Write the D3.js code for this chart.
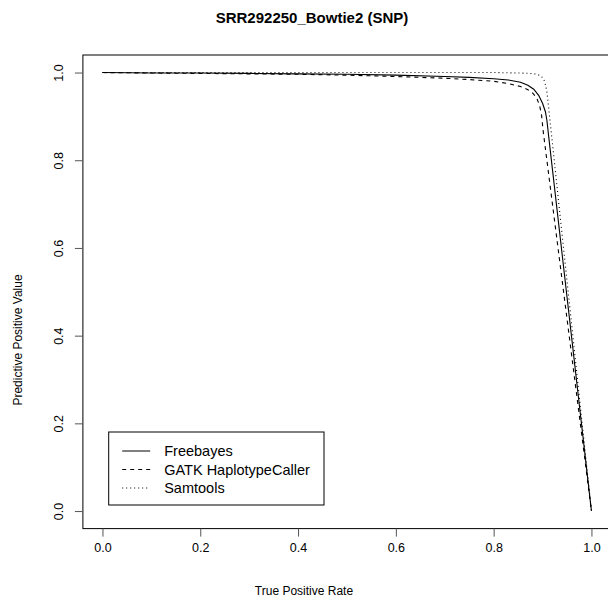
<!DOCTYPE html>
<html>
<head>
<meta charset="utf-8">
<script src="https://cdn.jsdelivr.net/npm/d3@7"></script>
<style>
  body { margin: 0; background: #fff; }
  text { font-family: "Liberation Sans", Arial, sans-serif; fill: #000; }
</style>
</head>
<body>
<div id="chart"></div>
<script>
var W = 608, H = 607;

// data (TPR on x, PPV on y)
var freebayesTPR = [0, 0.1, 0.2, 0.3, 0.4, 0.5, 0.6, 0.7, 0.75, 0.8, 0.83, 0.855, 0.87, 0.882, 0.892, 0.9, 0.906, 0.909, 0.913, 1.0];
var freebayesPPV = [1.0, 0.999, 0.999, 0.998, 0.997, 0.996, 0.994, 0.991, 0.989, 0.986, 0.983, 0.978, 0.971, 0.962, 0.948, 0.93, 0.91, 0.89, 0.85, 0];

var gatkTPR = [0, 0.1, 0.2, 0.3, 0.4, 0.5, 0.6, 0.7, 0.75, 0.8, 0.83, 0.855, 0.87, 0.88, 0.888, 0.894, 0.898, 0.901, 1.0];
var gatkPPV = [1.0, 0.999, 0.998, 0.997, 0.996, 0.994, 0.991, 0.987, 0.984, 0.980, 0.975, 0.968, 0.961, 0.953, 0.942, 0.925, 0.903, 0.869, 0];

var samtoolsTPR = [0, 0.2, 0.4, 0.6, 0.7, 0.8, 0.85, 0.875, 0.89, 0.898, 0.903, 0.906, 0.909, 0.912, 1.0];
var samtoolsPPV = [1.0, 1.0, 1.0, 1.0, 1.0, 1.0, 0.999, 0.998, 0.996, 0.991, 0.983, 0.972, 0.955, 0.925, 0];

var seriesNames = ["Freebayes", "GATK HaplotypeCaller", "Samtools"];
var seriesDash = [null, "4,4", "1,3"];
var ticks = [0, 0.2, 0.4, 0.6, 0.8, 1.0];

var series = [
  d3.zip(freebayesTPR, freebayesPPV),
  d3.zip(gatkTPR, gatkPPV),
  d3.zip(samtoolsTPR, samtoolsPPV)
];

var box = { left: 82.9, right: 611, top: 55, bottom: 528.6 };
var pad = 0.04 * (box.right - box.left) / 1.08;
var padY = 0.04 * (box.bottom - box.top) / 1.08;

var x = d3.scaleLinear().domain([0, 1]).range([box.left + pad, box.right - pad]);
var y = d3.scaleLinear().domain([0, 1]).range([box.bottom - padY, box.top + padY]);

var svg = d3.select("#chart").append("svg")
    .attr("width", W)
    .attr("height", H);

svg.append("text")
    .attr("x", 312).attr("y", 23)
    .attr("text-anchor", "middle")
    .style("font-weight", "bold")
    .style("font-size", "15px")
    .text("SRR292250_Bowtie2 (SNP)");

var line = d3.line().x(function(d) { return x(d[0]); }).y(function(d) { return y(d[1]); });

svg.selectAll(".curve")
    .data(series)
    .enter().append("path")
      .attr("class", "curve")
      .attr("d", line)
      .attr("fill", "none")
      .attr("stroke", "#000")
      .attr("stroke-width", 1.1)
      .attr("stroke-dasharray", function(d, i) { return seriesDash[i]; });

svg.append("rect")
    .attr("x", box.left).attr("y", box.top)
    .attr("width", box.right - box.left)
    .attr("height", box.bottom - box.top)
    .attr("fill", "none")
    .attr("stroke", "#000")
    .attr("stroke-width", 1);

var xAxis = svg.append("g")
    .attr("transform", "translate(0," + box.bottom + ")")
    .call(d3.axisBottom(x).tickValues(ticks).tickFormat(d3.format(".1f")).tickSize(8).tickSizeOuter(0).tickPadding(7));
xAxis.select(".domain").remove();
xAxis.selectAll("text").style("font-size", "12.5px").style("font-family", "'Liberation Sans', Arial, sans-serif");
xAxis.selectAll("line").attr("stroke", "#555");

var yAxis = svg.append("g")
    .attr("transform", "translate(" + box.left + ",0)")
    .call(d3.axisLeft(y).tickValues(ticks).tickFormat(d3.format(".1f")).tickSize(8).tickSizeOuter(0));
yAxis.select(".domain").remove();
yAxis.selectAll("line").attr("stroke", "#555");
yAxis.selectAll("text")
    .attr("x", null).attr("dy", null)
    .attr("transform", "translate(-24,0) rotate(-90)")
    .attr("text-anchor", "middle")
    .attr("dy", "0.35em")
    .style("font-size", "12.5px")
    .style("font-family", "'Liberation Sans', Arial, sans-serif");

svg.append("text")
    .attr("x", 304).attr("y", 595)
    .attr("text-anchor", "middle")
    .style("font-size", "12px")
    .text("True Positive Rate");

svg.append("text")
    .attr("transform", "translate(22," + 340 + ") rotate(-90)")
    .attr("text-anchor", "middle")
    .style("font-size", "12px")
    .text("Predictive Positive Value");

// legend
var legend = svg.append("g").attr("transform", "translate(108.7,432)");
legend.append("rect")
    .attr("width", 215.3).attr("height", 73)
    .attr("fill", "#fff").attr("stroke", "#000");
var items = legend.selectAll(".item")
    .data(seriesNames)
    .enter().append("g")
      .attr("class", "item")
      .attr("transform", function(d, i) { return "translate(0," + (19 + i * 18.5) + ")"; });
items.append("line")
    .attr("x1", 13.5).attr("x2", 41.5)
    .attr("stroke", "#000")
    .attr("stroke-dasharray", function(d, i) { return seriesDash[i]; });
items.append("text")
    .attr("x", 55.5).attr("dy", "0.35em")
    .style("font-size", "14.5px")
    .text(function(d) { return d; });
</script>
</body>
</html>
